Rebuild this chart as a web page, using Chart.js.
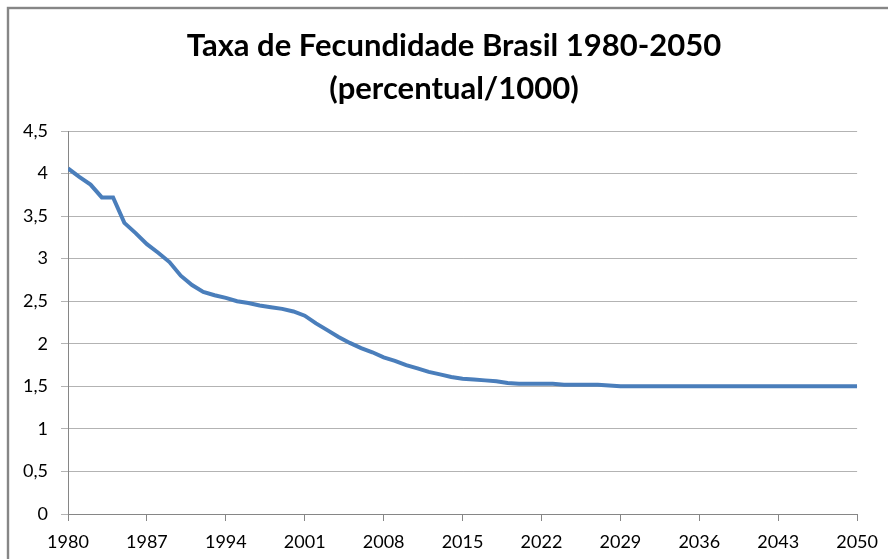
<!DOCTYPE html>
<html>
<head>
<meta charset="utf-8">
<script src="https://cdn.jsdelivr.net/npm/chart.js@4"></script>
<style>
  html, body { margin: 0; padding: 0; background: #fff; }
  #wrap { width: 888px; height: 559px; }
</style>
</head>
<body>
<div id="wrap"><canvas id="fecundidade-canvas"></canvas></div>
<script>
  // anos 1980..2050
  var anos = [];
  for (var a = 1980; a <= 2050; a++) anos.push(a);

  var taxa = [
    4.06, 3.96, 3.87, 3.72, 3.72, 3.42, 3.30, 3.17, 3.07, 2.96,
    2.80, 2.69, 2.61, 2.57, 2.54, 2.50, 2.48, 2.45, 2.43, 2.41,
    2.38, 2.33, 2.24, 2.16, 2.08, 2.01, 1.95, 1.90, 1.84, 1.80,
    1.75, 1.71, 1.67, 1.64, 1.61, 1.59, 1.58, 1.57, 1.56, 1.54,
    1.53, 1.53, 1.53, 1.53, 1.52, 1.52, 1.52, 1.52, 1.51, 1.50,
    1.50, 1.50, 1.50, 1.50, 1.50, 1.50, 1.50, 1.50, 1.50, 1.50,
    1.50, 1.50, 1.50, 1.50, 1.50, 1.50, 1.50, 1.50, 1.50, 1.50,
    1.50,
  ];

  var tituloLinhas = ["Taxa de Fecundidade Brasil 1980-2050", "(percentual/1000)"];

  var pontos = anos.map(function (ano, i) {
    return { x: ano, y: taxa[i] };
  });

  // moldura cinza + titulo centrado na area inteira
  var moldura = {
    id: "moldura",
    beforeDraw: function (chart) {
      var ctx = chart.ctx;
      ctx.save();
      ctx.fillStyle = "#fff";
      ctx.fillRect(0, 0, chart.width, chart.height);
      ctx.strokeStyle = "#868686";
      ctx.lineWidth = 2.4;
      ctx.strokeRect(8, 8, chart.width + 20, chart.height + 20);
      ctx.restore();
    },
    afterDraw: function (chart) {
      var ctx = chart.ctx;
      ctx.save();
      ctx.fillStyle = "#000";
      ctx.font = "bold 31px Lato, 'Open Sans', sans-serif";
      ctx.textAlign = "center";
      ctx.textBaseline = "middle";
      ctx.fillText(tituloLinhas[0], 454, 46);
      ctx.fillText(tituloLinhas[1], 454, 89);
      ctx.restore();
    },
  };

  Chart.defaults.font.family = "Lato, 'Open Sans', sans-serif";
  Chart.defaults.color = "#000";

  new Chart(document.getElementById("fecundidade-canvas"), {
    type: "line",
    data: {
      datasets: [
        {
          label: "Taxa",
          data: pontos,
          borderColor: "#4a7ebb",
          borderWidth: 4,
          pointRadius: 0,
          tension: 0,
          fill: false,
        },
      ],
    },
    options: {
      responsive: true,
      maintainAspectRatio: false,
      animation: false,
      layout: {
        padding: { left: 0, right: 24, top: 131, bottom: 0 },
      },
      plugins: {
        legend: { display: false },
        tooltip: { enabled: false },
        title: { display: false },
      },
      scales: {
        x: {
          type: "linear",
          min: 1980,
          max: 2050,
          afterFit: function (scale) {
            scale.height = 45;
          },
          ticks: {
            stepSize: 7,
            autoSkip: false,
            maxRotation: 0,
            padding: 10,
            font: { size: 18 },
            callback: function (v) {
              return String(v);
            },
          },
          grid: {
            drawOnChartArea: false,
            color: "#868686",
            tickLength: 7,
          },
          border: { color: "#868686", width: 1 },
        },
        y: {
          min: 0,
          max: 4.5,
          afterFit: function (scale) {
            scale.width = 68;
          },
          ticks: {
            stepSize: 0.5,
            padding: 13,
            font: { size: 18 },
            callback: function (v) {
              return String(v).replace(".", ",");
            },
          },
          grid: {
            color: "#b3b3b3",
            tickLength: 7,
          },
          border: { color: "#868686", width: 1 },
        },
      },
    },
    plugins: [moldura],
  });
</script>
</body>
</html>
